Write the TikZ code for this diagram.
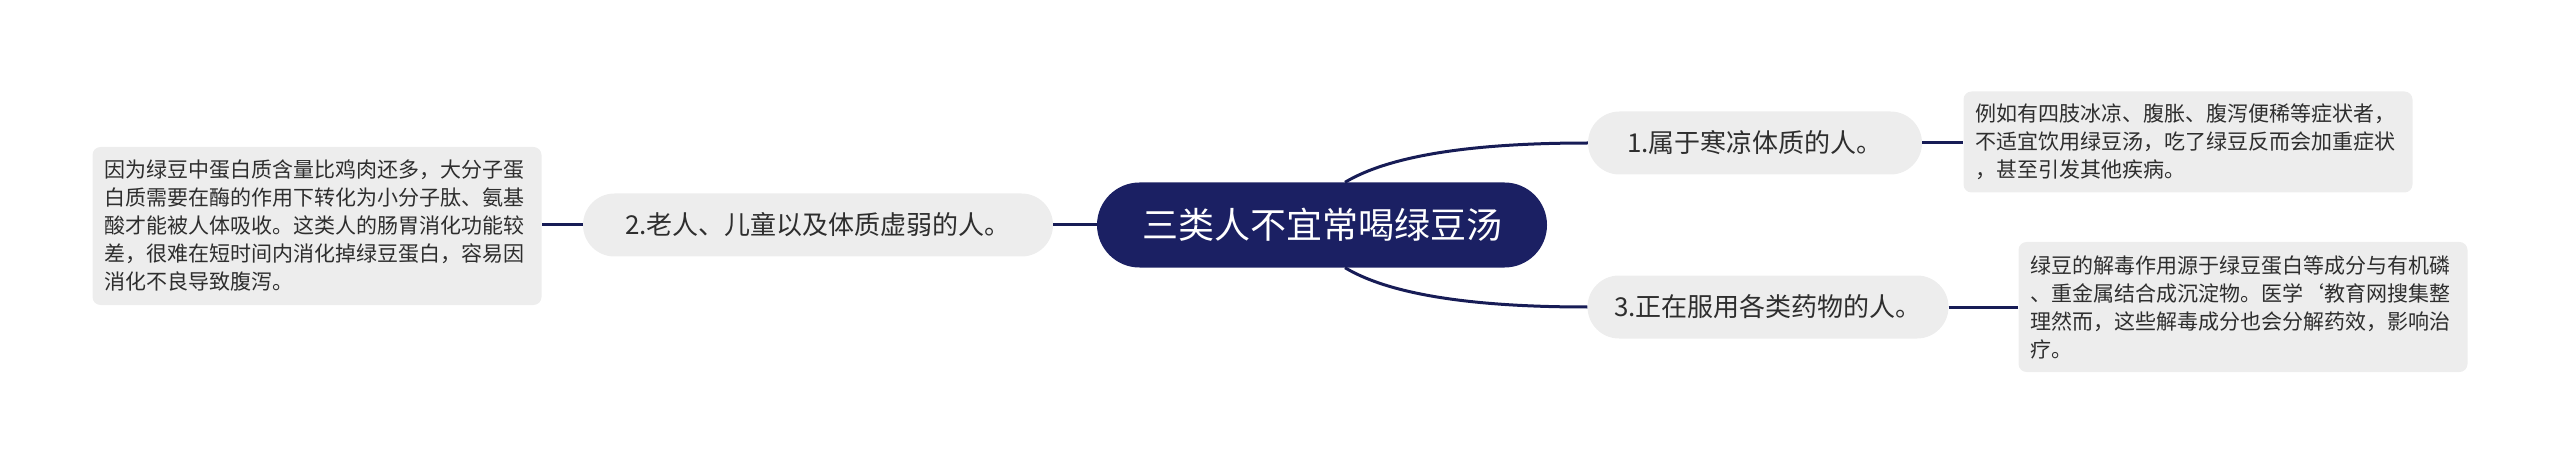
\documentclass[tikz,border=0pt]{standalone}
\usepackage{fontspec}
\setmainfont{Noto Sans CJK SC}
\XeTeXlinebreaklocale "zh"
\usepackage{tikz}
\usetikzlibrary{shapes.misc}
\usepackage{xcolor}
\definecolor{rootnavy}{HTML}{1B2063}
\definecolor{linknavy}{HTML}{171C56}
\definecolor{boxgray}{HTML}{EDEDED}
\definecolor{textgray}{HTML}{2E2E2E}

\begin{document}
\begin{tikzpicture}[
        x=1pt, y=-1pt,
        rootnode/.style={rounded rectangle, fill=rootnavy, text=white,
                         minimum width=450pt, minimum height=85pt, inner sep=0pt,
                         font=\fontsize{36}{40}\selectfont},
        topic/.style={rounded rectangle, fill=boxgray, text=textgray,
                      minimum height=63pt, inner sep=0pt,
                      font=\fontsize{26}{30}\selectfont},
        leaf/.style={rectangle, rounded corners=8pt, fill=boxgray, text=textgray,
                     text width=425pt, align=left, inner xsep=12pt, inner ysep=0pt,
                     font=\fontsize{21}{28}\selectfont},
        link/.style={draw=linknavy, line width=3pt},
      ]
        \useasboundingbox (0,0) rectangle (2560,465);

        \node[rootnode] (root) at (1322,225) {三类人不宜常喝绿豆汤};

        \node[topic, minimum width=334pt] (cold) at (1755,143) {1.属于寒凉体质的人。};
        \node[topic, minimum width=470pt] (old) at (818,225) {2.老人、儿童以及体质虚弱的人。};
        \node[topic, minimum width=361pt] (drug) at (1768,307) {3.正在服用各类药物的人。};

        \node[leaf, minimum height=101pt] (coldtip) at (2188,142)
          {例如有四肢冰凉、腹胀、腹泻便稀等症状者，\\
           不适宜饮用绿豆汤，吃了绿豆反而会加重症状\\
           ，甚至引发其他疾病。};
        \node[leaf, minimum height=158pt] (oldtip) at (317,226)
          {因为绿豆中蛋白质含量比鸡肉还多，大分子蛋\\
           白质需要在酶的作用下转化为小分子肽、氨基\\
           酸才能被人体吸收。这类人的肠胃消化功能较\\
           差，很难在短时间内消化掉绿豆蛋白，容易因\\
           消化不良导致腹泻。};
        \node[leaf, minimum height=130pt] (drugtip) at (2243,307)
          {绿豆的解毒作用源于绿豆蛋白等成分与有机磷\\
           、重金属结合成沉淀物。医学\symbol{96}教育网搜集整\\
           理然而，这些解毒成分也会分解药效，影响治\\
           疗。};

        \draw[link] ([xshift=23pt]root.north) .. controls +(50,-30) and +(-100,0) .. (cold.west);
        \draw[link] ([xshift=23pt]root.south) .. controls +(50,30) and +(-100,0) .. (drug.west);
        \draw[link] (root.west) -- (old.east);

        \draw[link] (cold.east) -- (cold.east -| coldtip.west);
        \draw[link] (old.west) -- (old.west -| oldtip.east);
        \draw[link] (drug.east) -- (drug.east -| drugtip.west);
      \end{tikzpicture}
\end{document}
